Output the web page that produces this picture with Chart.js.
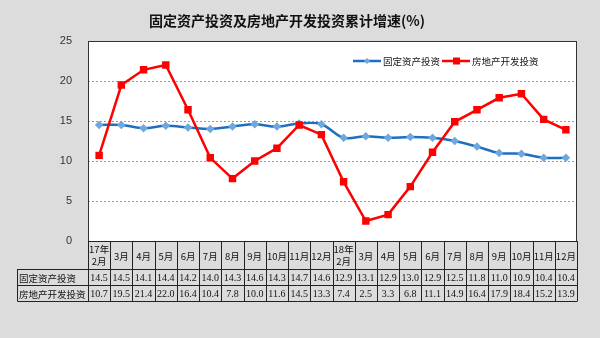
<!DOCTYPE html>
<html>
<head>
<meta charset="utf-8">
<script src="https://cdn.jsdelivr.net/npm/chart.js@4/dist/chart.umd.min.js"></script>
<style>
  html, body { margin: 0; padding: 0; background: #dcdcdc; }
  #wrap { width: 600px; height: 338px; position: relative; }
</style>
</head>
<body>
<div id="wrap"><canvas id="investChart" width="600" height="338"></canvas></div>
<script>
// 月份
const months = [['17年', '2月'], '3月', '4月', '5月', '6月', '7月', '8月', '9月', '10月', '11月', '12月',
                ['18年', '2月'], '3月', '4月', '5月', '6月', '7月', '8月', '9月', '10月', '11月', '12月'];
const seriesNames = ['固定资产投资', '房地产开发投资'];
const fixedAsset = [14.5, 14.5, 14.1, 14.4, 14.2, 14.0, 14.3, 14.6, 14.3, 14.7, 14.6,
                    12.9, 13.1, 12.9, 13.0, 12.9, 12.5, 11.8, 11.0, 10.9, 10.4, 10.4];
const realEstate = [10.7, 19.5, 21.4, 22.0, 16.4, 10.4, 7.8, 10.0, 11.6, 14.5, 13.3,
                    7.4, 2.5, 3.3, 6.8, 11.1, 14.9, 16.4, 17.9, 18.4, 15.2, 13.9];
const yTicks = [0, 5, 10, 15, 20, 25];

const cjk = '"Noto Sans CJK SC", "Liberation Sans", sans-serif';

// 标题、图例、底部数据表
const tablePlugin = {
    id: 'tablePlugin',
    beforeDraw(chart) {
        const { ctx, chartArea: a } = chart;
        ctx.save();
        ctx.fillStyle = '#ffffff';
        ctx.fillRect(a.left, a.top, a.right - a.left, a.bottom - a.top);
        ctx.restore();
    },
    afterDraw(chart) {
        const { ctx, chartArea: a } = chart;
        const x = chart.scales.x;
        ctx.save();

        // 边框
        ctx.strokeStyle = '#333';
        ctx.lineWidth = 1;
        ctx.strokeRect(a.left + 0.5, a.top + 0.5, a.right - a.left - 1, a.bottom - a.top);

        // 标题
        ctx.fillStyle = '#111';
        ctx.font = 'bold 14px ' + cjk;
        ctx.textAlign = 'center';
        ctx.textBaseline = 'middle';
        ctx.fillText('固定资产投资及房地产开发投资累计增速(%)', 287, 21);

        // 图例
        const ds = chart.data.datasets;
        let lx = 353;
        const ly = 61;
        ctx.font = '9.5px ' + cjk;
        ctx.textAlign = 'left';
        [1, 0].forEach(i => {
            const d = ds[i];
            ctx.strokeStyle = d.borderColor;
            ctx.lineWidth = 2.5;
            ctx.beginPath();
            ctx.moveTo(lx, ly);
            ctx.lineTo(lx + 28, ly);
            ctx.stroke();
            ctx.fillStyle = d.pointBackgroundColor;
            if (d.pointStyle === 'rect') {
                ctx.fillRect(lx + 11, ly - 3.5, 7, 7);
            } else {
                ctx.beginPath();
                ctx.moveTo(lx + 14, ly - 3);
                ctx.lineTo(lx + 17, ly);
                ctx.lineTo(lx + 14, ly + 3);
                ctx.lineTo(lx + 11, ly);
                ctx.closePath();
                ctx.fill();
            }
            ctx.fillStyle = '#111';
            ctx.fillText(d.label, lx + 30, ly);
            lx += 30 + ctx.measureText(d.label).width + 2;
        });

        // 数据表
        const n = months.length;
        const w = (a.right - a.left) / n;
        const top = a.bottom, r1 = 269, r2 = 285, r3 = 301.5, tl = 17.5;
        ctx.strokeStyle = '#222';
        ctx.lineWidth = 1;
        ctx.beginPath();
        // 横线
        ctx.moveTo(a.left, top + 0.5); ctx.lineTo(a.right, top + 0.5);
        ctx.moveTo(tl, r1 + 0.5); ctx.lineTo(a.right, r1 + 0.5);
        ctx.moveTo(tl, r2 + 0.5); ctx.lineTo(a.right, r2 + 0.5);
        ctx.moveTo(tl, r3); ctx.lineTo(a.right, r3);
        // 竖线
        ctx.moveTo(tl, r1); ctx.lineTo(tl, r3);
        for (let i = 0; i <= n; i++) {
            const cx = Math.round(a.left + i * w) + 0.5;
            ctx.moveTo(cx, top); ctx.lineTo(cx, r3);
        }
        ctx.stroke();

        ctx.fillStyle = '#111';
        ctx.textAlign = 'center';
        ctx.textBaseline = 'middle';
        ctx.font = '9.5px ' + cjk;
        months.forEach((m, i) => {
            const cx = x.getPixelForValue(i);
            if (Array.isArray(m)) {
                ctx.fillText(m[0], cx, top + 8);
                ctx.fillText(m[1], cx, top + 20);
            } else {
                ctx.fillText(m, cx, (top + r1) / 2 + 1);
            }
        });
        ctx.font = '9.5px ' + cjk;
        ctx.textAlign = 'left';
        ctx.fillText(seriesNames[0], tl + 1.5, (r1 + r2) / 2 + 1);
        ctx.fillText(seriesNames[1], tl + 1.5, (r2 + r3) / 2 + 1);
        ctx.textAlign = 'center';
        ctx.font = '10px "Liberation Serif", serif';
        fixedAsset.forEach((v, i) => {
            ctx.fillText(v.toFixed(1), x.getPixelForValue(i), (r1 + r2) / 2 + 1);
        });
        realEstate.forEach((v, i) => {
            ctx.fillText(v.toFixed(1), x.getPixelForValue(i), (r2 + r3) / 2 + 1);
        });
        ctx.restore();
    }
};

const ctx = document.getElementById('investChart').getContext('2d');
new Chart(ctx, {
    type: 'line',
    data: {
        labels: months,
        datasets: [{
            label: seriesNames[1],
            data: realEstate,
            borderColor: '#ff0000',
            backgroundColor: '#ff0000',
            pointBackgroundColor: '#ff0000',
            pointBorderColor: '#ff0000',
            pointStyle: 'rect',
            pointRadius: 3.5,
            borderWidth: 2.5,
            tension: 0,
            order: 0
        }, {
            label: seriesNames[0],
            data: fixedAsset,
            borderColor: '#1f6fc0',
            backgroundColor: '#1f6fc0',
            pointBackgroundColor: '#6fa8dc',
            pointBorderColor: '#6fa8dc',
            pointStyle: 'rectRot',
            pointRadius: 2.5,
            borderWidth: 2.5,
            tension: 0.35,
            order: 1
        }]
    },
    options: {
        responsive: false,
        animation: false,
        layout: { padding: { left: 0, right: 23, top: 41, bottom: 97 } },
        plugins: { legend: { display: false }, title: { display: false }, tooltip: { enabled: false } },
        scales: {
            x: { display: false, offset: true },
            y: {
                min: 0, max: 25,
                afterFit(scale) { scale.width = 88; },
                afterBuildTicks(scale) { scale.ticks = yTicks.map(v => ({ value: v })); },
                ticks: { padding: 16, color: '#333', font: { size: 11, family: 'Liberation Sans' } },
                grid: {
                    drawTicks: false,
                    color: c => (c.tick.value === 0 || c.tick.value === 25) ? 'rgba(0,0,0,0)' : '#999',
                    lineWidth: 1
                },
                border: { display: false, dash: [2, 2] }
            }
        }
    },
    plugins: [tablePlugin]
});
</script>
</body>
</html>
